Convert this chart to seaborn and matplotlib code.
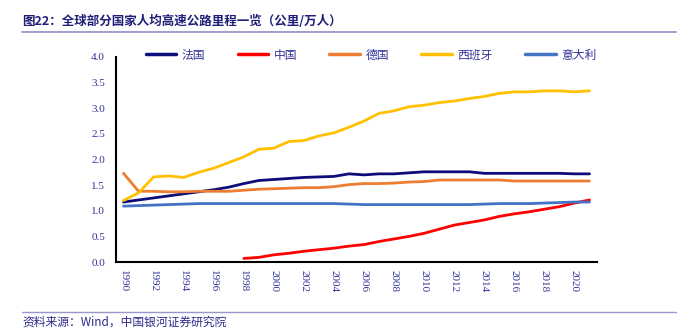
import numpy as np
import pandas as pd
import seaborn as sns
import matplotlib
matplotlib.use("Agg")
import matplotlib.pyplot as plt
from matplotlib.lines import Line2D
from matplotlib.ticker import FixedLocator, NullFormatter

years = list(range(1990, 2022))

france = [1.17, 1.21, 1.25, 1.29, 1.33, 1.37, 1.41, 1.46, 1.53, 1.59, 1.61, 1.63, 1.65, 1.66, 1.67, 1.72, 1.70,
          1.72, 1.72, 1.74, 1.76, 1.76, 1.76, 1.76, 1.73, 1.73, 1.73, 1.73, 1.73, 1.73, 1.72, 1.72]
china = [np.nan] * 8 + [0.07, 0.09, 0.14, 0.17, 0.21, 0.24, 0.27, 0.31, 0.34, 0.40, 0.45, 0.50, 0.56,
                        0.64, 0.72, 0.77, 0.82, 0.89, 0.94, 0.98, 1.03, 1.08, 1.15, 1.21]
germany = [1.73, 1.38, 1.38, 1.37, 1.37, 1.38, 1.38, 1.38, 1.40, 1.42, 1.43, 1.44, 1.45, 1.45, 1.47, 1.51, 1.53,
           1.53, 1.54, 1.56, 1.57, 1.60, 1.60, 1.60, 1.60, 1.60, 1.58, 1.58, 1.58, 1.58, 1.58, 1.58]
spain = [1.20, 1.35, 1.66, 1.68, 1.65, 1.75, 1.83, 1.94, 2.05, 2.20, 2.22, 2.35, 2.37, 2.46, 2.52, 2.63, 2.75,
         2.90, 2.95, 3.03, 3.06, 3.11, 3.14, 3.19, 3.23, 3.29, 3.32, 3.32, 3.34, 3.34, 3.32, 3.34]
italy = [1.09, 1.10, 1.11, 1.12, 1.13, 1.14, 1.14, 1.14, 1.14, 1.14, 1.14, 1.14, 1.14, 1.14, 1.14, 1.13, 1.12,
         1.12, 1.12, 1.12, 1.12, 1.12, 1.12, 1.12, 1.13, 1.14, 1.14, 1.14, 1.15, 1.16, 1.17, 1.17]

names = ["法国", "中国", "德国", "西班牙", "意大利"]
series = [france, china, germany, spain, italy]
colors = ["#0d0d7a", "#ff0000", "#ed7d31", "#ffc000", "#4472c4"]

title = "图22：全球部分国家人均高速公路里程一览（公里/万人）"
source = "资料来源：Wind，中国银河证券研究院"

sns.set_style("white")
cjk = ["Noto Sans CJK SC", "DejaVu Sans"]
plt.rcParams["font.family"] = cjk

text_blue = "#33339a"
rule = "#9a96cc"

fig = plt.figure(figsize=(6.95, 3.31), dpi=100)
ax = fig.add_axes([116 / 695, 1 - 262 / 331, 481 / 695, 205 / 331])

for name, vals, c in zip(names, series, colors):
    df = pd.DataFrame({"year": years, "value": vals}).dropna()
    sns.lineplot(data=df, x="year", y="value", color=c, linewidth=2.0, ax=ax, label=name)

ax.set_xlim(1989.5, 2021.5)
ax.set_ylim(0, 4.0)
ax.set_xlabel("")
ax.set_ylabel("")

# y axis
ax.set_yticks(np.arange(0, 4.01, 0.5))
ax.set_yticklabels([f"{v:.1f}" for v in np.arange(0, 4.01, 0.5)])
# x axis: labels centred on every other year, tick marks on category boundaries
ax.set_xticks(years[::2])
ax.set_xticklabels([str(y) for y in years[::2]], rotation=270)
ax.xaxis.set_minor_locator(FixedLocator(np.arange(1989.5, 2022, 2)))
ax.xaxis.set_minor_formatter(NullFormatter())
ax.tick_params(axis="x", which="major", length=0, pad=6)
ax.tick_params(axis="x", which="minor", length=3, width=1.2, direction="in", color="black")
ax.tick_params(axis="y", which="major", length=3, width=1.2, direction="in", color="black", pad=8)
for lab in ax.get_xticklabels() + ax.get_yticklabels():
    lab.set_fontfamily("Liberation Serif")
    lab.set_fontsize(8)
    lab.set_color(text_blue)

for side in ["top", "right"]:
    ax.spines[side].set_visible(False)
for side in ["left", "bottom"]:
    ax.spines[side].set_color("black")
    ax.spines[side].set_linewidth(1.5)

handles = [Line2D([], [], color=c, linewidth=2.5) for c in colors]
leg = ax.legend(handles, names, ncol=5, loc="center", bbox_to_anchor=(371 / 695, 1 - 55 / 331),
                bbox_transform=fig.transFigure, frameon=False, handlelength=2.6, handletextpad=0.45,
                columnspacing=2.75, prop={"family": cjk, "size": 8.5})
for t in leg.get_texts():
    t.set_color(text_blue)

# header and footer
fig.text(22 / 695, 1 - 21 / 331, title, fontsize=9, fontweight="bold", color="#1f1f78",
         va="center", ha="left", family=cjk)
fig.add_artist(Line2D([22 / 695, 676 / 695], [1 - 32 / 331, 1 - 32 / 331], color=rule, linewidth=1.3))
fig.add_artist(Line2D([22 / 695, 676 / 695], [1 - 312 / 331, 1 - 312 / 331], color=rule, linewidth=1.0))
fig.text(22 / 695, 1 - 322 / 331, source, fontsize=8.5, style="italic", color="#2b2b8a",
         va="center", ha="left", family=cjk)

fig.savefig("out.png", dpi=100, facecolor="white")
